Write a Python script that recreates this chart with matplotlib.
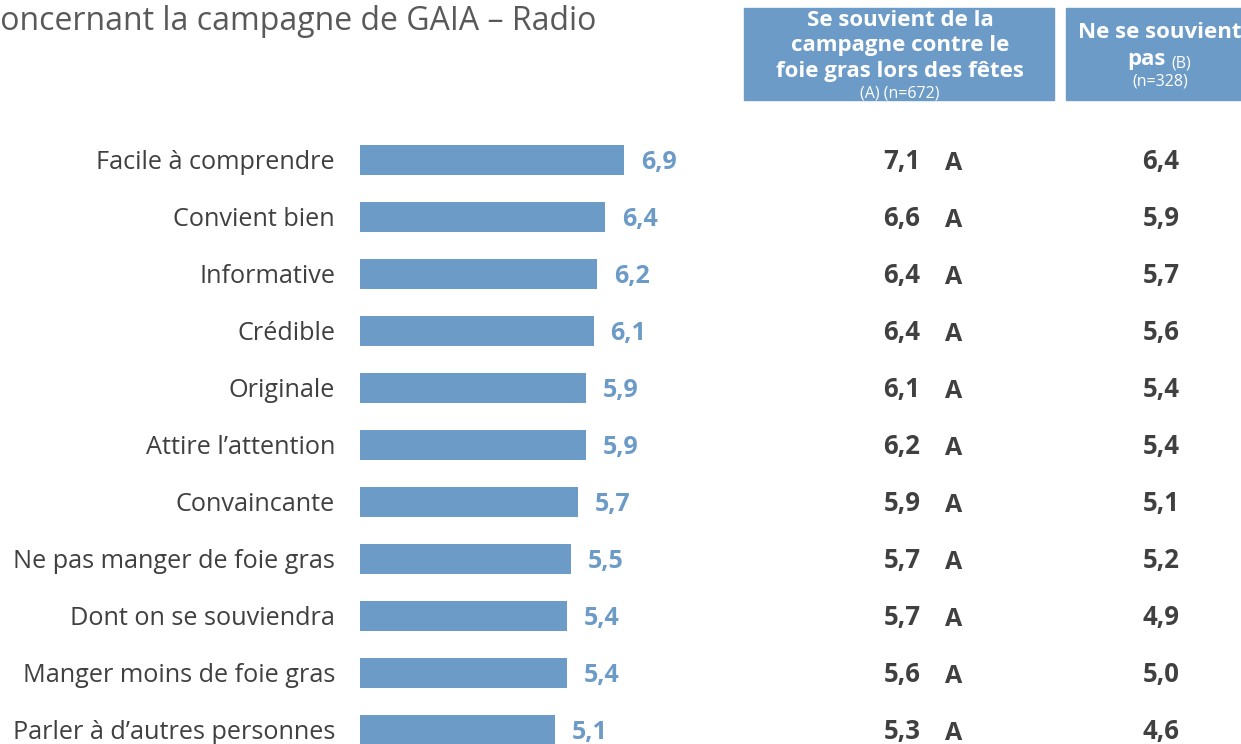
import matplotlib
matplotlib.use("Agg")
import matplotlib.pyplot as plt
from matplotlib.patches import Rectangle

categories = ["Facile à comprendre", "Convient bien", "Informative", "Crédible",
              "Originale", "Attire l’attention", "Convaincante",
              "Ne pas manger de foie gras", "Dont on se souviendra",
              "Manger moins de foie gras", "Parler à d’autres personnes"]
total = [6.9, 6.4, 6.2, 6.1, 5.9, 5.9, 5.7, 5.5, 5.4, 5.4, 5.1]
group_a = [7.1, 6.6, 6.4, 6.4, 6.1, 6.2, 5.9, 5.7, 5.7, 5.6, 5.3]
sig_a = ["A"] * 11
group_b = [6.4, 5.9, 5.7, 5.6, 5.4, 5.4, 5.1, 5.2, 4.9, 5.0, 4.6]
fmt = lambda v: f"{v:.1f}".replace(".", ",")

W, H = 1241, 744
BLUE = "#6C9BC8"
GREY = "#404040"
FONT = "Open Sans"

fig = plt.figure(figsize=(W / 100, H / 100), dpi=100)
ax = fig.add_axes([0, 0, 1, 1])
scale = 38.3  # px per unit
x0 = 360
ax.set_xlim(-x0 / scale, (W - x0) / scale)
y0, dy = 160, 57
ax.set_ylim((H - y0) / dy, -y0 / dy)
ax.axis("off")

ypos = list(range(len(categories)))
ax.barh(ypos, total, height=0.53, color=BLUE)
for i, v in enumerate(total):
    ax.annotate(fmt(v), xy=(v, i), xytext=(12, -2), textcoords="offset points",
                ha="left", va="center", color=BLUE, fontsize=18,
                fontweight="bold", family=FONT)

tr = ax.get_yaxis_transform()  # x in axes coords, y in data
for i, cat in enumerate(categories):
    ax.text(335 / W, i + 0.04, cat, transform=tr, ha="right", va="center",
            fontsize=18.2, color=GREY, family=FONT)
    ax.text(902 / W, i + 0.02, fmt(group_a[i]), transform=tr, ha="center", va="center",
            fontsize=18.5, color=GREY, fontweight="bold", family=FONT)
    ax.text(954 / W, i + 0.06, sig_a[i], transform=tr, ha="center", va="center",
            fontsize=18, color=GREY, fontweight="bold", family=FONT)
    ax.text(1161 / W, i + 0.02, fmt(group_b[i]), transform=tr, ha="center", va="center",
            fontsize=18.5, color=GREY, fontweight="bold", family=FONT)

# Title (clipped at left edge as in reference)
fig.text(-20 / W, 1 - 21 / H, "Concernant la campagne de GAIA – Radio",
         ha="left", va="center", fontsize=23, color="#595959", family=FONT)

def fx(p):
    return p / W

def fy(p):
    return 1 - p / H

# Header boxes
fig.patches.append(Rectangle((fx(744), fy(100)), fx(1054) - fx(744), (100 - 8) / H,
                             transform=fig.transFigure, color=BLUE, zorder=0))
fig.patches.append(Rectangle((fx(1066), fy(100)), fx(1260) - fx(1066), (100 - 8) / H,
                             transform=fig.transFigure, color=BLUE, zorder=0))

hdr_a = ["Se souvient de la", "campagne contre le", "foie gras lors des fêtes"]
for k, line in enumerate(hdr_a):
    fig.text(fx(900), fy(20 + 26 * k), line, ha="center", va="center",
             fontsize=16, color="white", fontweight="bold", family=FONT)
fig.text(fx(900), fy(94), "(A) (n=672)", ha="center", va="center",
         fontsize=11.5, color="white", family=FONT)

fig.text(fx(1160), fy(33), "Ne se souvient", ha="center", va="center",
         fontsize=16, color="white", fontweight="bold", family=FONT)
fig.text(fx(1166), fy(60), "pas", ha="right", va="center",
         fontsize=16, color="white", fontweight="bold", family=FONT)
fig.text(fx(1171), fy(63), "(B)", ha="left", va="center",
         fontsize=11.5, color="white", family=FONT)
fig.text(fx(1160), fy(82), "(n=328)", ha="center", va="center",
         fontsize=11.5, color="white", family=FONT)

fig.savefig("out.png", dpi=100)
